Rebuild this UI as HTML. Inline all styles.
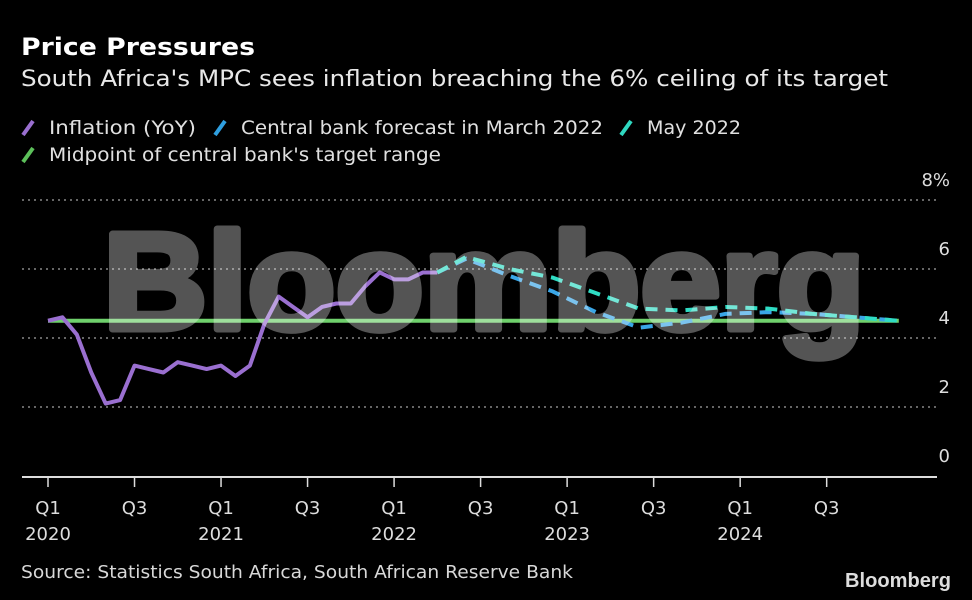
<!DOCTYPE html>
<html><head><meta charset="utf-8">
<style>
html,body{margin:0;padding:0;background:#000;}
body{width:972px;height:600px;overflow:hidden;position:relative;font-family:"DejaVu Sans","Liberation Sans",sans-serif;color:#fff;}
</style></head>
<body>
<svg width="972" height="600" style="position:absolute;left:0;top:0" id="chart" font-family="DejaVu Sans, Liberation Sans, sans-serif">
  <text x="21" y="55" font-size="24" font-weight="bold" fill="#fff" textLength="234" lengthAdjust="spacingAndGlyphs">Price Pressures</text>
  <text x="21" y="86" font-size="22" fill="#e8e8e8" textLength="867" lengthAdjust="spacingAndGlyphs">South Africa's MPC sees inflation breaching the 6% ceiling of its target</text>
  <g id="legend" font-size="19" fill="#e0e0e0">
    <g><line x1="23" y1="135" x2="33" y2="121" stroke="#9a6fd0" stroke-width="4"/><text x="49" y="134" textLength="147" lengthAdjust="spacingAndGlyphs">Inflation (YoY)</text></g>
    <g><line x1="215" y1="135" x2="225" y2="121" stroke="#2f9fe0" stroke-width="4"/><text x="241" y="134" textLength="362" lengthAdjust="spacingAndGlyphs">Central bank forecast in March 2022</text></g>
    <g><line x1="621" y1="135" x2="631" y2="121" stroke="#2fd8c0" stroke-width="4"/><text x="647" y="134" textLength="94" lengthAdjust="spacingAndGlyphs">May 2022</text></g>
    <g><line x1="23" y1="162" x2="33" y2="148" stroke="#5cc05a" stroke-width="4"/><text x="49" y="161" textLength="392" lengthAdjust="spacingAndGlyphs">Midpoint of central bank's target range</text></g>
  </g>
  <g id="grid"></g>
  <g id="axis"></g>
  <g id="series"></g>
  <g opacity="0.33">
    <text x="103" y="329" font-family="Liberation Sans, sans-serif" font-weight="bold" font-size="138" textLength="762" lengthAdjust="spacingAndGlyphs" fill="#fff" stroke="#fff" stroke-width="7" stroke-linejoin="round">Bloomberg</text>
  </g>
  <text x="21" y="578" font-size="18" fill="#d8d8d8" textLength="552" lengthAdjust="spacingAndGlyphs">Source: Statistics South Africa, South African Reserve Bank</text>
  <text x="951" y="587" text-anchor="end" font-size="20" font-weight="bold" fill="#ddd" font-family="Liberation Sans, sans-serif" textLength="106" lengthAdjust="spacingAndGlyphs">Bloomberg</text>
</svg>
<script>
const inflation = [4.5,4.6,4.1,3.0,2.1,2.2,3.2,3.1,3.0,3.3,3.2,3.1,3.2,2.9,3.2,4.4,5.2,4.9,4.6,4.9,5.0,5.0,5.5,5.9,5.7,5.7,5.9,5.9];
const forecastMonths = [27,29,32,35,38,41,44,47,50,53,56,59];
const marchForecast = [5.9,6.3,5.8,5.35,4.75,4.3,4.45,4.7,4.75,4.7,4.6,4.5];
const mayForecast = [5.9,6.35,6.0,5.75,5.3,4.85,4.8,4.9,4.85,4.7,4.6,4.5];
const midpoint = 4.5;
const midpointRange = [0,59];
const yTicks = [0,2,4,6,8];
const yTickLabels = ["0","2","4","6","8%"];
const xTickMonths = [0,6,12,18,24,30,36,42,48,54];
const xTickLabels = [["Q1","2020"],["Q3",""],["Q1","2021"],["Q3",""],["Q1","2022"],["Q3",""],["Q1","2023"],["Q3",""],["Q1","2024"],["Q3",""]];

const NS="http://www.w3.org/2000/svg";
function X(m){return 48+m*14.42;}
function Y(v){return 476-v*34.5;}
function mk(tag,attrs,parent){const e=document.createElementNS(NS,tag);for(const k in attrs)e.setAttribute(k,attrs[k]);parent.appendChild(e);return e;}
const grid=document.getElementById('grid'),axis=document.getElementById('axis'),series=document.getElementById('series');
yTicks.forEach((v,i)=>{
  if(v>0){const l=mk('line',{x1:22,x2:937,y1:Y(v),y2:Y(v),stroke:'#888','stroke-width':1.5,'stroke-dasharray':'2 4'},grid);
  
  }
  const t=mk('text',{x:950,y:Y(v)-14,'text-anchor':'end','font-size':18,fill:'#ddd'},axis);
  t.textContent=yTickLabels[i];
  
  
});
const ax=mk('line',{x1:22,x2:937,y1:477,y2:477,stroke:'#ddd','stroke-width':2},axis);


xTickMonths.forEach((m,i)=>{
  const tk=mk('line',{x1:X(m),x2:X(m),y1:477,y2:487,stroke:'#ddd','stroke-width':1.5},axis);
  
  
  const t=mk('text',{x:X(m),y:514,'text-anchor':'middle','font-size':18,fill:'#ddd'},axis);
  t.textContent=xTickLabels[i][0];
  
  
  if(xTickLabels[i][1]){const t2=mk('text',{x:X(m),y:540,'text-anchor':'middle','font-size':18,fill:'#ddd'},axis);
  t2.textContent=xTickLabels[i][1];
  
  }
});
const mid=mk('line',{x1:X(midpointRange[0]),x2:X(midpointRange[1]),y1:Y(midpoint),y2:Y(midpoint),stroke:'#6fd06c','stroke-width':4},series);


const inf=mk('polyline',{points:inflation.map((v,i)=>X(i)+','+Y(v)).join(' '),fill:'none',stroke:'#9a6fd0','stroke-width':4,'stroke-linejoin':'round'},series);


const mar=mk('polyline',{points:marchForecast.map((v,i)=>X(forecastMonths[i])+','+Y(v)).join(' '),fill:'none',stroke:'#3aa6e6','stroke-width':4,'stroke-dasharray':'12 8','stroke-linejoin':'round'},series);


const may=mk('polyline',{points:mayForecast.map((v,i)=>X(forecastMonths[i])+','+Y(v)).join(' '),fill:'none',stroke:'#2fdcc4','stroke-width':4,'stroke-dasharray':'12 8','stroke-linejoin':'round'},series);


</script>
</body></html>
